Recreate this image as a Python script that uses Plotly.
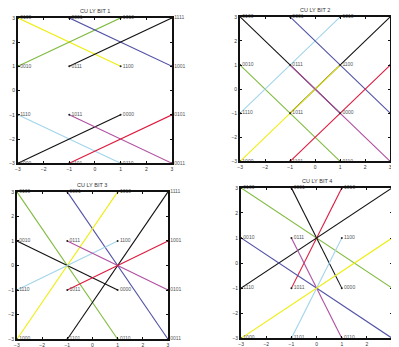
import plotly.graph_objects as go

# 16 constellation points (x, y) and their bit labels
pt_x = [-3, -1, 1, 3, -3, -1, 1, 3, -3, -1, 1, 3, -3, -1, 1, 3]
pt_y = [3, 3, 3, 3, 1, 1, 1, 1, -1, -1, -1, -1, -3, -3, -3, -3]
pt_labels = ["0100", "0001", "1010", "1111",
             "0010", "0111", "1100", "1001",
             "1110", "1011", "0000", "0101",
             "1000", "1101", "0110", "0011"]

titles = ["CU LY BIT 1", "CU LY BIT 2", "CU LY BIT 3", "CU LY BIT 4"]

# pairs of point indices joined in each panel, and line colours
pairs_bit1 = [(0, 6), (4, 2), (1, 7), (5, 3), (8, 14), (12, 10), (9, 15), (13, 11)]
colors_bit1 = ["#eeee10", "#80bb40", "#5252a6", "#111111", "#a2d4ea", "#111111", "#b04fa0", "#dd1a3e"]
pairs_bit2 = [(0, 10), (9, 3), (12, 6), (4, 14), (8, 2), (1, 11), (13, 7), (5, 15)]
colors_bit2 = ["#111111", "#111111", "#eeee10", "#80bb40", "#a2d4ea", "#5252a6", "#dd1a3e", "#b04fa0"]
pairs_bit3 = [(0, 14), (1, 15), (12, 2), (13, 3), (4, 10), (8, 6), (5, 11), (9, 7)]
colors_bit3 = ["#80bb40", "#5252a6", "#eeee10", "#111111", "#111111", "#a2d4ea", "#b04fa0", "#dd1a3e"]
pairs_bit4 = [(0, 11), (1, 10), (9, 2), (8, 3), (4, 15), (5, 14), (13, 6), (12, 7)]
colors_bit4 = ["#80bb40", "#111111", "#dd1a3e", "#111111", "#5252a6", "#b04fa0", "#a2d4ea", "#eeee10"]

tick_vals = [-3, -2, -1, 0, 1, 2, 3]

all_pairs = [pairs_bit1, pairs_bit2, pairs_bit3, pairs_bit4]
all_colors = [colors_bit1, colors_bit2, colors_bit3, colors_bit4]

W, H = 399, 347
OFF = 8  # page body margin offset
# panel boxes in page pixels: left, right, top, bottom
boxes = [(15, 171, 15, 163), (240, 392, 14, 161), (14, 167, 192, 342), (241, 394, 188, 341)]

fig = go.Figure()
for k in range(4):
    ax = "" if k == 0 else str(k + 1)
    xref, yref = "x" + ax, "y" + ax
    for (a, b), c in zip(all_pairs[k], all_colors[k]):
        fig.add_trace(go.Scatter(x=[pt_x[a], pt_x[b]], y=[pt_y[a], pt_y[b]], mode="lines",
                                 line=dict(color=c, width=1.1), xaxis=xref, yaxis=yref,
                                 hoverinfo="skip", showlegend=False, cliponaxis=False))
    fig.add_trace(go.Scatter(x=pt_x, y=pt_y, mode="markers+text", text=pt_labels,
                             textposition="middle right",
                             textfont=dict(size=5, color="#555555", family="Liberation Sans"),
                             marker=dict(size=2, color="#222222"),
                             xaxis=xref, yaxis=yref, showlegend=False, cliponaxis=False))
    l, r, t, b = [v - OFF for v in boxes[k]]
    common = dict(range=[-3, 3], tickvals=tick_vals, ticks="inside", ticklen=2, tickwidth=1,
                  tickcolor="#111111", showline=True, linewidth=2, linecolor="#111111",
                  mirror="allticks", showgrid=False, zeroline=False,
                  tickfont=dict(size=5, color="#333333", family="Liberation Sans"))
    fig.layout["xaxis" + ax] = dict(domain=[l / W, r / W], anchor=yref, **common)
    fig.layout["yaxis" + ax] = dict(domain=[1 - b / H, 1 - t / H], anchor=xref, **common)
    fig.add_annotation(text=titles[k], x=(l + r) / 2 / W, y=1 - (t - 7) / H, xref="paper", yref="paper",
                       showarrow=False, font=dict(size=5.5, color="#333333", family="Liberation Sans"),
                       xanchor="center", yanchor="middle")

fig.update_layout(width=W, height=H, margin=dict(l=0, r=0, t=0, b=0),
                  paper_bgcolor="white", plot_bgcolor="white")
fig.write_html("out.html")
